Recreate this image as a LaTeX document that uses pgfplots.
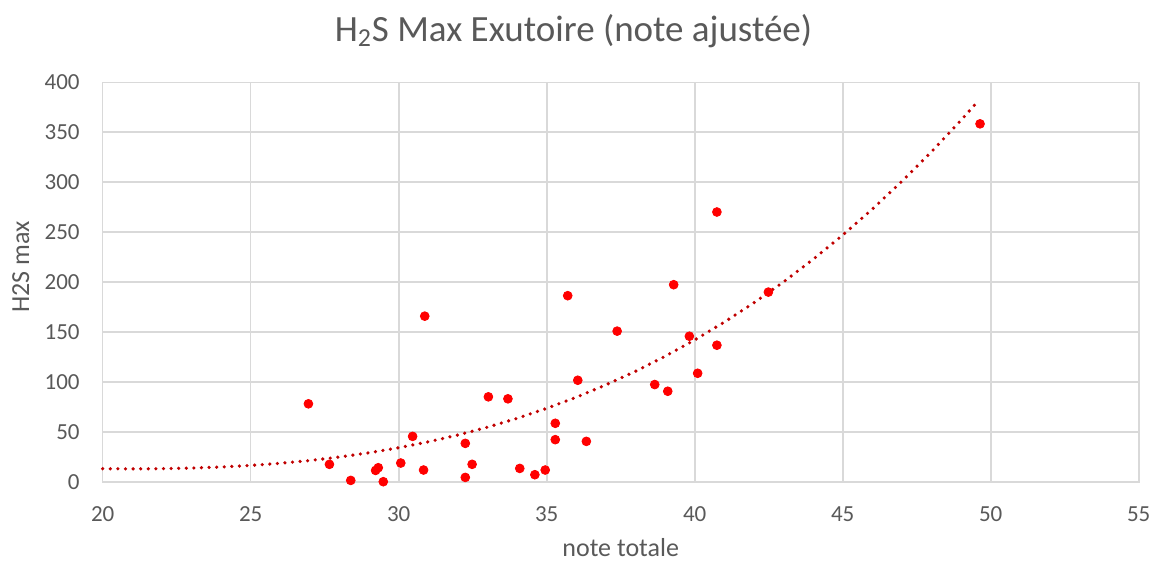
\documentclass[border=0pt]{standalone}
\usepackage{pgfplots}
\pgfplotsset{compat=1.18}
\usepackage{fontspec}
\setmainfont{Carlito}
\definecolor{txt}{HTML}{595959}
\definecolor{gridc}{HTML}{D9D9D9}
\definecolor{trend}{HTML}{C00000}
\begin{document}
\begin{tikzpicture}
\useasboundingbox (-51.35pt,-40.65pt) rectangle (525.15pt,240.85pt);
\begin{axis}[
  at={(0,0)}, anchor=south west,
  scale only axis, width=518pt, height=199.7pt,
  xmin=20, xmax=55, ymin=0, ymax=400,
  xtick={20,25,...,55}, ytick={0,50,...,400},
  grid=major,
  major grid style={gridc, line width=0.8pt},
  axis line style={gridc, line width=0.8pt},
  major tick length=0pt,
  tick label style={font=\fontsize{11.5}{13}\selectfont, text=txt},
  /pgf/number format/assume math mode=true,
  xticklabel style={anchor=base, yshift=-20pt, inner sep=0pt},
  yticklabel style={anchor=east, xshift=-11.35pt, inner sep=0pt},
  clip=false,
]
\addplot[trend, line width=1.8pt, line cap=round, dash pattern=on 0pt off 3.8pt] coordinates {
(20,13.00) (21,12.86) (22,13.06) (23,13.66) (24,14.72) (25,16.29) (26,18.45) (27,21.24) (28,24.72) (29,28.95)
(30,34.00) (31,39.92) (32,46.76) (33,54.60) (34,63.47) (35,73.46) (36,84.61) (37,97.0) (38,110.6) (39,125.6)
(40,142.0) (41,159.8) (42,179.2) (43,200.1) (44,222.7) (45,247.0) (46,273.0) (47,300.8) (48,330.5) (49,362.1) (49.6,382.0)
};
\addplot[only marks, mark=*, mark size=2.2pt, mark options={fill=red, draw=red}] coordinates {
(26.95,78) (27.66,17.4) (28.38,1.3) (29.22,11.3) (29.31,14) (29.48,0) (30.07,18.7) (30.47,45.4)
(30.88,165.8) (30.84,11.7) (32.25,38.4) (32.25,4.3) (32.48,17.4) (33.03,85) (33.69,83) (34.09,13.3)
(34.60,7) (34.95,11.7) (35.29,58.5) (35.29,42.1) (35.71,186.3) (36.05,101.6)
(36.34,40.4) (37.38,150.8) (38.65,97.3) (39.09,90.6) (39.29,197.3) (39.82,145.7) (40.10,108.6)
(40.75,136.7) (42.49,189.9) (40.75,270.1) (49.64,358.4)
};
\end{axis}
\node[text=txt, font=\fontsize{18.5}{22}\selectfont] at (235.4pt,225.35pt) {H\textsubscript{2}S Max Exutoire (note ajustée)};
\node[text=txt, font=\fontsize{13}{15}\selectfont, anchor=base, inner sep=0pt] at (259pt,-37.3pt) {note totale};
\node[text=txt, font=\fontsize{13}{15}\selectfont, rotate=90, inner sep=0pt] at (-40.95pt,107.5pt) {H2S max};
\end{tikzpicture}
\end{document}
